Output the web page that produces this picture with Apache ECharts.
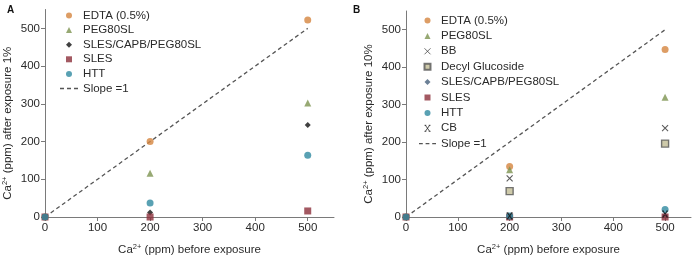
<!DOCTYPE html>
<html>
<head>
<meta charset="utf-8">
<script src="https://cdn.jsdelivr.net/npm/echarts@6/dist/echarts.min.js"></script>
<style>
  html, body { margin: 0; padding: 0; background: #fff; }
  #container { width: 692px; height: 261px; }
</style>
</head>
<body>
<div id="container"></div>
<script>
// x positions (Ca2+ before exposure)
var xVals = [0, 200, 500];
var tickVals = [0, 100, 200, 300, 400, 500];

// panel A : after exposure 1%
var edtaA = [0, 200, 522];
var pegA = [null, 116, 302];
var slesCapbA = [null, 12, 244];
var slesA = [0, 0, 16];
var httA = [0, 37, 164];

// panel B : after exposure 10%
var edtaB = [0, 135, 447];
var pegB = [null, 126, 320];
var bbB = [null, 103, 237];
var decylB = [null, 69, 196];
var slesCapbB = [null, 2, 5];
var slesB = [0, 0, 0];
var httB = [0, 3, 20];
var cbB = [null, 3, 8];

var slopeX = [0, 500];

var FONT = '"Liberation Sans", Arial, sans-serif';
var TXT = '#2a2a2a';
var AXC = '#7a7a7a';

function pts(ys) {
    var out = [];
    for (var i = 0; i < xVals.length; i++) {
        if (ys[i] !== null) out.push([xVals[i], ys[i]]);
    }
    return out;
}

function scatter(name, idx, ys, symbol, size, itemStyle) {
    return {
        name: name, type: 'scatter', xAxisIndex: idx, yAxisIndex: idx,
        symbol: symbol, symbolSize: size, data: pts(ys),
        itemStyle: itemStyle, z: 3
    };
}

function slope(name, idx) {
    return {
        name: name, type: 'line', xAxisIndex: idx, yAxisIndex: idx,
        symbol: 'none', silent: true, z: 2,
        data: slopeX.map(function (v) { return [v, v]; }),
        lineStyle: {color: '#555', width: 1.3, type: [4, 3]},
        itemStyle: {color: '#555'}
    };
}

var rich = {
    n: {fontSize: 11.5, color: TXT, fontFamily: FONT, lineHeight: 14},
    s: {fontSize: 7.5, color: TXT, fontFamily: FONT, verticalAlign: 'top', lineHeight: 14}
};

function xAxis(idx) {
    return {
        type: 'value', gridIndex: idx, min: 0, max: 550,
        name: '{n|Ca}{s|2+}{n| (ppm) before exposure}',
        nameLocation: 'middle', nameGap: 26,
        nameTextStyle: {rich: rich},
        axisLine: {lineStyle: {color: AXC}},
        axisTick: {show: true, length: 4, lineStyle: {color: AXC}, customValues: tickVals},
        axisLabel: {color: TXT, fontSize: 11.5, fontFamily: FONT, margin: 5, customValues: tickVals},
        splitLine: {show: false}
    };
}

function yAxis(idx, label) {
    return {
        type: 'value', gridIndex: idx, min: 0, max: 550,
        name: '{n|Ca}{s|2+}{n| (ppm) after exposure ' + label + '}',
        nameLocation: 'middle', nameGap: 30, nameRotate: 90,
        nameTextStyle: {rich: rich, padding: [0, 20, 0, 0]},
        axisLine: {show: true, lineStyle: {color: AXC}},
        axisTick: {show: true, length: 4, lineStyle: {color: AXC}, customValues: tickVals},
        axisLabel: {color: TXT, fontSize: 11.5, fontFamily: FONT, margin: 5, customValues: tickVals},
        splitLine: {show: false}
    };
}

var Z = '\u200b'; // keeps panel B names separate from panel A

var namesA = ['EDTA (0.5%)', 'PEG80SL', 'SLES/CAPB/PEG80SL', 'SLES', 'HTT', 'Slope =1'];
var namesB = ['EDTA (0.5%)', 'PEG80SL', 'BB', 'Decyl Glucoside', 'SLES/CAPB/PEG80SL', 'SLES', 'HTT', 'CB', 'Slope =1']
    .map(function (n) { return n + Z; });

var C_EDTA = '#d4843f', C_PEG = '#7d9450', C_SLES = '#8c2f3b', C_HTT = '#2f8aa0';
var xPath = 'path://M0 0 L10 10 M10 0 L0 10';
var cbPath = 'path://M0 0 L3 0 M7 0 L10 0 M0 10 L3 10 M7 10 L10 10 M1.5 0 L8.5 10 M8.5 0 L1.5 10';

// legend icons (paths keep their aspect, so they sit centred in the icon box)
var icons = {
    circle: 'circle',
    triangle: 'path://M5 0 L10 10 L0 10 Z',
    rect: 'path://M0 0 L10 0 L10 10 L0 10 Z',
    diamond: 'path://M5 0 L10 5 L5 10 L0 5 Z',
    dash: 'path://M0 0h4v1.4h-4z M7 0h4v1.4h-4z M14 0h4v1.4h-4z'
};
var iconsA = [icons.circle, icons.triangle, icons.diamond, icons.rect, icons.circle, icons.dash];
var iconsB = [icons.circle, icons.triangle, xPath, icons.rect, icons.diamond, icons.rect, icons.circle, cbPath, icons.dash];

var series = [
    scatter(namesA[0], 0, edtaA, 'circle', 7, {color: C_EDTA}),
    scatter(namesA[1], 0, pegA, 'triangle', 7, {color: C_PEG}),
    scatter(namesA[2], 0, slesCapbA, 'diamond', 6, {color: '#111'}),
    scatter(namesA[3], 0, slesA, 'rect', 7, {color: C_SLES}),
    scatter(namesA[4], 0, httA, 'circle', 7, {color: C_HTT}),
    slope(namesA[5], 0),

    scatter(namesB[0], 1, edtaB, 'circle', 7, {color: C_EDTA}),
    scatter(namesB[1], 1, pegB, 'triangle', 7, {color: C_PEG}),
    scatter(namesB[2], 1, bbB, xPath, 6, {color: 'none', borderColor: '#333', borderWidth: 1.1}),
    scatter(namesB[3], 1, decylB, 'rect', 7, {color: '#c2bd95', borderColor: '#555', borderWidth: 1.4}),
    scatter(namesB[4], 1, slesCapbB, 'diamond', 6, {color: '#46607c'}),
    scatter(namesB[5], 1, slesB, 'rect', 7, {color: C_SLES}),
    scatter(namesB[6], 1, httB, 'circle', 7, {color: C_HTT}),
    scatter(namesB[7], 1, cbB, cbPath, 6, {color: 'none', borderColor: '#111', borderWidth: 1.1}),
    slope(namesB[8], 1)
];

function legendData(names, iconList) {
    return names.map(function (n, i) {
        var item = {name: n, icon: iconList[i]};
        if (iconList[i] === xPath || iconList[i] === cbPath) item.itemStyle = {borderWidth: 0.9};
        return item;
    });
}

var legendText = {color: TXT, fontSize: 11.5, fontFamily: FONT, lineHeight: 12};

var option = {
    animation: false,
    title: [
        {text: 'A', left: 2, top: 0, textStyle: {fontSize: 10, fontWeight: 'bold', color: '#111', fontFamily: FONT}},
        {text: 'B', left: 348, top: 0, textStyle: {fontSize: 10, fontWeight: 'bold', color: '#111', fontFamily: FONT}}
    ],
    grid: [
        {left: 45, top: 9.5, width: 289, height: 211.5},
        {left: 406, top: 11, width: 285, height: 210}
    ],
    xAxis: [xAxis(0), xAxis(1)],
    yAxis: [yAxis(0, '1%'), yAxis(1, '10%')],
    legend: [
        {
            data: legendData(namesA, iconsA), orient: 'vertical', left: 55, top: 4.5,
            itemWidth: 18, itemHeight: 6, itemGap: 2.6, symbolKeepAspect: true,
            textStyle: legendText, selectedMode: false
        },
        {
            data: legendData(namesB, iconsB), orient: 'vertical', left: 414, top: 9.5,
            itemWidth: 17, itemHeight: 6, itemGap: 3.4, symbolKeepAspect: true,
            textStyle: legendText, selectedMode: false
        }
    ],
    series: series
};

var myChart = echarts.init(document.getElementById('container'));
myChart.setOption(option);
</script>
</body>
</html>
